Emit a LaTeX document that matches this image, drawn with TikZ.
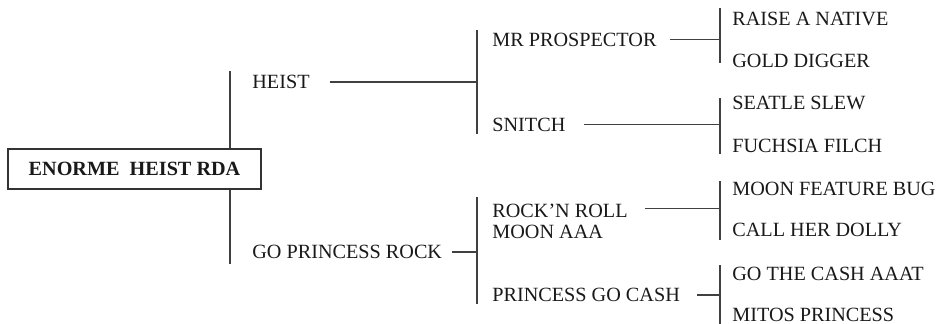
\documentclass[tikz,border=0pt]{standalone}
\usepackage{fontspec}
\setmainfont{Liberation Serif}
\usetikzlibrary{positioning}

\begin{document}
\begin{tikzpicture}[x=0.5pt,y=-0.5pt,
  txt/.style={inner sep=0pt,font=\fontsize{10.1pt}{10.5pt}\selectfont,text=black!90},
  lbl/.style={txt,anchor=west,text height=6.7pt,text depth=0pt},
  rootbox/.style={draw=black!80,line width=0.6pt,minimum width=126.5pt,minimum height=20pt,inner sep=0pt,font=\fontsize{10.1pt}{10.5pt}\selectfont\bfseries,text=black!90},
  ln/.style={draw=black!75,line width=0.7pt}]
\useasboundingbox (0,0) rectangle (937,324);
\node[rootbox] (gr) at (134.5,169) {ENORME\ \ HEIST RDA};
\node[lbl] (g1) at (252,82) {HEIST};
\node[lbl] (g2) at (252,252) {GO PRINCESS ROCK};
\node[lbl] (g3) at (492,39.5) {MR PROSPECTOR};
\node[lbl] (g4) at (492,124.5) {SNITCH};
\node[txt,anchor=north west,align=left] (g5) at (492,203.3) {ROCK'N ROLL\\MOON AAA};
\node[lbl] (g6) at (492,295) {PRINCESS GO CASH};
\node[lbl] (c1) at (732,18.5) {RAISE A NATIVE};
\node[lbl] (c2) at (732,60.5) {GOLD DIGGER};
\node[lbl] (c3) at (732,103) {SEATLE SLEW};
\node[lbl] (c4) at (732,146) {FUCHSIA FILCH};
\node[lbl] (c5) at (732,189) {MOON FEATURE BUG};
\node[lbl] (c6) at (732,230) {CALL HER DOLLY};
\node[lbl] (c7) at (732,274) {GO THE CASH AAAT};
\node[lbl] (c8) at (732,314.5) {MITOS PRINCESS};
\coordinate (k1) at (230,71);
\coordinate (k2) at (230,264);
\coordinate (h1a) at (477,30);
\coordinate (h1b) at (477,134);
\coordinate (h2a) at (477,197);
\coordinate (h2b) at (477,304);
\coordinate (m1a) at (720,8);
\coordinate (m1b) at (720,63);
\coordinate (m2a) at (720,98);
\coordinate (m2b) at (720,154);
\coordinate (m3a) at (720,181);
\coordinate (m3b) at (720,240);
\coordinate (m4a) at (720,265);
\coordinate (m4b) at (720,324);
\coordinate (q5) at ([shift={(17,5)}]g5.north east);
\draw[ln] (k1) -- (k1 |- gr.north);
\draw[ln] (k2) -- (k2 |- gr.south);
\draw[ln] (h1a) -- (h1b);
\draw[ln] (h2a) -- (h2b);
\draw[ln] (g1.east) ++(19.5,0) -- (g1 -| h1a);
\draw[ln] (g2.east) ++(9,0) -- (g2 -| h2a);
\draw[ln] (m1a) -- (m1b);
\draw[ln] (m2a) -- (m2b);
\draw[ln] (m3a) -- (m3b);
\draw[ln] (m4a) -- (m4b);
\draw[ln] (g3.east) ++(13,0) -- (g3 -| m1a);
\draw[ln] (g4.east) ++(18,0) -- (g4 -| m2a);
\draw[ln] (q5) -- (q5 -| m3a);
\draw[ln] (g6.east) ++(17,0) -- (g6 -| m4a);
\end{tikzpicture}
\end{document}
